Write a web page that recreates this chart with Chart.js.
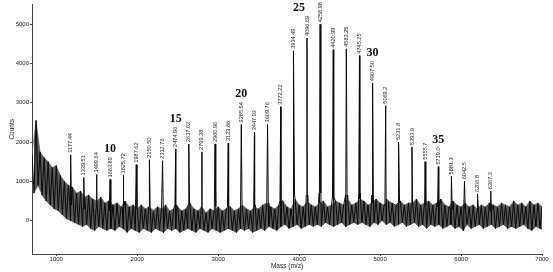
<!DOCTYPE html>
<html>
<head>
<meta charset="utf-8">
<script src="https://cdn.jsdelivr.net/npm/chart.js@4.4.1/dist/chart.umd.min.js"></script>
<style>
  html, body { margin: 0; padding: 0; background: #fff; }
  canvas { display: block; }
</style>
</head>
<body>
<canvas id="spectrum" width="553" height="272"></canvas>
<script>
// Axis ticks
const xTicks = [1000, 2000, 3000, 4000, 5000, 6000, 7000];
const yTicks = [0, 1000, 2000, 3000, 4000, 5000];

// Baseline noise band, sampled every 50 m/z from 700 to 7000
const noiseStart = 700;
const noiseStep = 50;
const noiseHigh = [
  1700, 2550, 1750, 1600, 1500, 1350, 1400, 1150, 1000, 900,
  850, 700, 750, 600, 650, 550, 500, 600, 450, 500,
  400, 450, 350, 500, 350, 400, 300, 400, 300, 350,
  250, 350, 300, 400, 250, 300, 350, 250, 300, 450,
  300, 250, 350, 200, 300, 250, 350, 250, 300, 350,
  250, 300, 400, 300, 250, 350, 300, 400, 450, 350,
  300, 400, 500, 350, 300, 550, 400, 350, 500, 400,
  350, 450, 500, 350, 400, 500, 450, 400, 550, 400,
  450, 550, 500, 400, 450, 550, 450, 400, 500, 450,
  400, 500, 400, 450, 450, 550, 400, 450, 500, 400,
  450, 550, 400, 350, 500, 400, 350, 450, 350, 400,
  300, 400, 350, 450, 400, 350, 450, 400, 350, 500,
  400, 450, 350, 500, 400, 450, 350
];
const noiseLow = [
  700, 900, 650, 500, 400, 300, 250, 150, 50, 0,
  -50, -100, -150, -100, -200, -250, -150, -200, -250, -200,
  -250, -150, -200, -300, -200, -250, -300, -200, -250, -300,
  -200, -250, -300, -200, -250, -200, -300, -250, -200, -250,
  -300, -200, -250, -300, -200, -250, -300, -250, -200, -250,
  -300, -200, -250, -200, -300, -250, -200, -250, -150, -200,
  -250, -150, -100, -200, -150, -100, -200, -150, -100, -150,
  -100, -150, -50, -100, -150, -100, -50, -150, -100, -50,
  -100, -50, -100, -150, -50, -100, 0, -100, -50, -150,
  -100, -50, -150, -100, -50, -150, -100, -200, -100, -150,
  -100, -200, -150, -100, -200, -150, -250, -100, -200, -150,
  -100, -200, -150, -100, -200, -150, -100, -200, -150, -200,
  -150, -100, -200, -250, -150, -200, -250
];

// Labelled peaks
const peakMass = [
  1177.44, 1339.51, 1499.64, 1663.89, 1825.72, 1987.62, 2150.50, 2312.76,
  2474.96, 2637.02, 2799.38, 2960.96, 3123.86, 3285.54, 3447.93, 3609.76,
  3772.22, 3934.49, 4096.69, 4258.98, 4420.99, 4583.25, 4745.25, 4907.50,
  5069.2, 5231.8, 5393.9, 5555.7, 5719.0, 5881.3, 6042.5, 6206.8, 6367.3
];
const peakLabel = [
  "1177.44", "1339.51", "1499.64", "1663.89", "1825.72", "1987.62", "2150.50", "2312.76",
  "2474.96", "2637.02", "2799.38", "2960.96", "3123.86", "3285.54", "3447.93", "3609.76",
  "3772.22", "3934.49", "4096.69", "4258.98", "4420.99", "4583.25", "4745.25", "4907.50",
  "5069.2", "5231.8", "5393.9", "5555.7", "5719.0", "5881.3", "6042.5", "6206.8", "6367.3"
];
const peakTop = [
  1675, 1100, 1175, 1050, 1150, 1425, 1550, 1525,
  1825, 1950, 1750, 1950, 1975, 2450, 2250, 2450,
  2900, 4325, 4650, 5000, 4350, 4375, 4200, 3500,
  2925, 2000, 1875, 1500, 1375, 1125, 1000, 675, 750
];
const peakBase = [
  400, 300, 300, 250, 300, 300, 350, 300,
  400, 400, 350, 350, 350, 400, 400, 450,
  500, 650, 650, 700, 600, 650, 700, 650,
  550, 450, 400, 400, 350, 300, 300, 250, 250
];

// Oligomer numbers (bold) and the peak they mark
const seriesNumber = ["10", "15", "20", "25", "30", "35"];
const seriesPeak = [1663.89, 2474.96, 3285.54, 4096.69, 4907.50, 5719.0];

// noise envelopes as point lists
const highPts = noiseHigh.map((v, i) => ({ x: noiseStart + i * noiseStep, y: v }));
const lowPts = noiseLow.map((v, i) => ({ x: noiseStart + i * noiseStep + noiseStep / 2, y: v }));

// the trace: zigzag between the envelopes, with the peaks spliced in
const trace = highPts.concat(lowPts);
peakMass.forEach((m, i) => {
  trace.push({ x: m - 9, y: peakBase[i] });
  trace.push({ x: m, y: peakTop[i] });
  trace.push({ x: m + 9, y: peakBase[i] });
});
trace.sort((a, b) => a.x - b.x);

const LABEL_FONT = "5.6px 'Liberation Sans', Arial, sans-serif";
const NUMBER_FONT = "bold 12px 'Liberation Serif', 'Times New Roman', serif";
const TICK_FONT = { family: "'Liberation Sans', Arial, sans-serif", size: 6 };

const peakLabelsPlugin = {
  id: "peakLabels",
  afterDatasetsDraw(chart) {
    const { ctx, scales } = chart;
    const xs = scales.x;
    const ys = scales.y;
    const labelTops = {};
    ctx.save();
    ctx.font = LABEL_FONT;
    ctx.fillStyle = "#222";
    ctx.textAlign = "left";
    ctx.textBaseline = "middle";
    peakMass.forEach((m, i) => {
      const px = xs.getPixelForValue(m);
      const py = ys.getPixelForValue(peakTop[i]) - 2;
      ctx.save();
      ctx.translate(px, py);
      ctx.rotate(-Math.PI / 2);
      ctx.fillText(peakLabel[i], 0, 0);
      ctx.restore();
      labelTops[m] = py - ctx.measureText(peakLabel[i]).width;
    });

    ctx.font = NUMBER_FONT;
    ctx.fillStyle = "#111";
    ctx.textAlign = "center";
    ctx.textBaseline = "bottom";
    seriesNumber.forEach((txt, i) => {
      const m = seriesPeak[i];
      let px = xs.getPixelForValue(m);
      // "25" sits left of its label, the others sit on top of it
      if (txt === "25") px -= 8;
      ctx.fillText(txt, px, labelTops[m] - 2);
    });
    ctx.restore();
  },
};

new Chart(document.getElementById("spectrum"), {
  type: "line",
  data: {
    datasets: [
      {
        data: trace,
        borderColor: "#0a0a0a",
        borderWidth: 1,
        pointRadius: 0,
        tension: 0,
        fill: false,
        order: 0,
      },
      {
        data: highPts,
        borderColor: "rgba(90,90,90,0.7)",
        borderWidth: 0.8,
        backgroundColor: "rgba(25,25,25,0.72)",
        pointRadius: 0,
        tension: 0,
        fill: "+1",
        order: 1,
      },
      {
        data: lowPts,
        borderColor: "rgba(90,90,90,0.7)",
        borderWidth: 0.8,
        pointRadius: 0,
        tension: 0,
        fill: false,
        order: 2,
      },
    ],
  },
  options: {
    responsive: false,
    animation: false,
    events: [],
    layout: { padding: { top: 1, right: 11, left: 0, bottom: 0 } },
    plugins: {
      legend: { display: false },
      tooltip: { enabled: false },
    },
    scales: {
      x: {
        type: "linear",
        min: 700,
        max: 7000,
        afterBuildTicks: (s) => { s.ticks = xTicks.map((v) => ({ value: v })); },
        afterFit: (s) => { s.height = 18; },
        grid: { drawOnChartArea: false, tickLength: 2, color: "#444" },
        border: { color: "#444", width: 1 },
        ticks: {
          color: "#222",
          padding: 0,
          maxRotation: 0,
          font: TICK_FONT,
          callback: (v) => String(v),
        },
        title: {
          display: true,
          text: "Mass (m/z)",
          color: "#222",
          padding: { top: 0, bottom: 2 },
          font: { family: "'Liberation Sans', Arial, sans-serif", size: 6.5 },
        },
      },
      y: {
        min: -850,
        max: 5500,
        afterBuildTicks: (s) => { s.ticks = yTicks.map((v) => ({ value: v })); },
        afterFit: (s) => { s.width = 32; },
        grid: { drawOnChartArea: false, tickLength: 2, color: "#444" },
        border: { color: "#444", width: 1 },
        ticks: {
          color: "#222",
          padding: 1,
          font: TICK_FONT,
          callback: (v) => String(v),
        },
        title: {
          display: true,
          text: "Counts",
          color: "#222",
          padding: { top: 8, bottom: 0 },
          font: { family: "'Liberation Sans', Arial, sans-serif", size: 6.5 },
        },
      },
    },
  },
  plugins: [peakLabelsPlugin],
});
</script>
</body>
</html>
